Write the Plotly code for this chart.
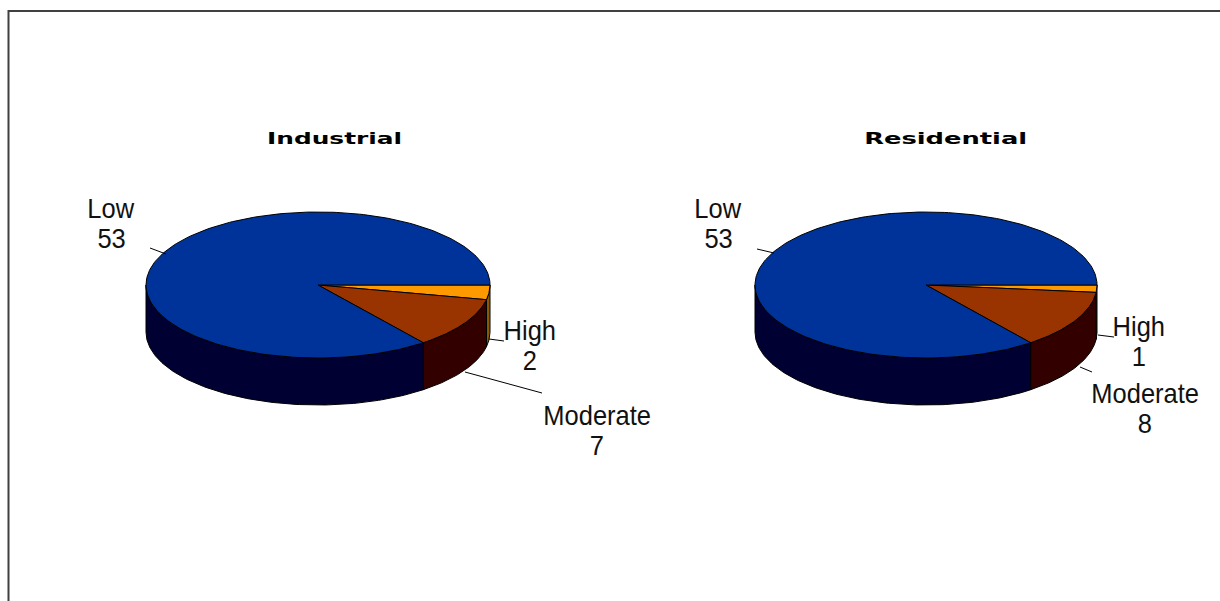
import numpy as np
import plotly.graph_objects as go

# Chart data
categories = ["High", "Moderate", "Low"]
industrial_values = [2, 7, 53]
residential_values = [1, 8, 53]
chart_titles = ["Industrial", "Residential"]

# Slice colours: top face and side wall
top_colors = {"High": "#FF9900", "Moderate": "#993300", "Low": "#003399"}
side_colors = {"High": "#8A5A00", "Moderate": "#330000", "Low": "#000033"}

W, H = 1220, 601
DEPTH = 47
LINE_GAP = 30

# Pixel geometry of each pie and where its texts and leader lines sit
panels = [
    dict(values=industrial_values, title=chart_titles[0], cx=318, cy=285, rx=172, ry=73,
         px=(0, 610), suffix="", title_x=334.5, title_y=138,
         labels={"Low": (111, 208), "High": (530, 330), "Moderate": (597, 415)},
         leaders=[((150, 248), (166, 254)), ((489, 339), (504, 341)), ((465, 372), (542, 393))]),
    dict(values=residential_values, title=chart_titles[1], cx=926, cy=285, rx=171, ry=73,
         px=(610, 1220), suffix="2", title_x=945.5, title_y=138,
         labels={"Low": (718, 208), "High": (1139, 326), "Moderate": (1145, 393)},
         leaders=[((757, 249), (774, 253)), ((1098, 335), (1114, 337)), ((1080, 367), (1092, 372))]),
]

LABEL_FONT = dict(family="Liberation Sans, sans-serif", size=28, color="#111111")
TITLE_FONT = dict(family="DejaVu Sans, sans-serif", size=16, color="#000000", weight="bold")


def arc(a0, a1, n=120):
    t = np.linspace(a0, a1, n)
    return np.cos(t), -np.sin(t)


def text_note(text, x, y, font):
    return dict(text=text, x=x / W, y=1 - y / H, xref="paper", yref="paper",
                showarrow=False, xanchor="center", yanchor="middle", font=font)


fig = go.Figure()
annotations = []
shapes = []

for p in panels:
    xa, ya = "x" + p["suffix"], "y" + p["suffix"]
    drop = DEPTH / p["ry"]
    total = sum(p["values"])
    edges = np.concatenate([[0], np.cumsum(p["values"])]) / total * 2 * np.pi

    # Side walls are only visible along the front half of the rim
    for cat, a0, a1 in zip(categories, edges[:-1], edges[1:]):
        x, y = arc(a0, min(a1, np.pi))
        fig.add_trace(go.Scatter(
            x=np.concatenate([x, x[::-1], x[:1]]),
            y=np.concatenate([y, y[::-1] - drop, y[:1]]),
            mode="lines", fill="toself", fillcolor=side_colors[cat],
            line=dict(color="#000000", width=1), xaxis=xa, yaxis=ya,
            hoverinfo="skip", showlegend=False))

    # Top faces
    for cat, a0, a1 in zip(categories, edges[:-1], edges[1:]):
        x, y = arc(a0, a1, 240)
        fig.add_trace(go.Scatter(
            x=np.concatenate([[0], x, [0]]),
            y=np.concatenate([[0], y, [0]]),
            mode="lines", fill="toself", fillcolor=top_colors[cat],
            line=dict(color="#000000", width=1), xaxis=xa, yaxis=ya,
            name=cat, showlegend=False))

    # Axes are scaled in pie radii so one unit spans the ellipse
    x0, x1 = p["px"]
    common = dict(visible=False, fixedrange=True)
    fig.update_layout({
        ("xaxis" + p["suffix"]): dict(domain=[x0 / W, x1 / W],
                                      range=[(x0 - p["cx"]) / p["rx"], (x1 - p["cx"]) / p["rx"]],
                                      anchor=ya, **common),
        ("yaxis" + p["suffix"]): dict(domain=[0, 1],
                                      range=[(p["cy"] - H) / p["ry"], p["cy"] / p["ry"]],
                                      anchor=xa, **common),
    })

    annotations.append(text_note(p["title"], p["title_x"], p["title_y"], TITLE_FONT))
    for cat, val in zip(categories, p["values"]):
        lx, ly = p["labels"][cat]
        annotations.append(text_note(cat, lx, ly, LABEL_FONT))
        annotations.append(text_note(str(val), lx, ly + LINE_GAP, LABEL_FONT))
    for (ax, ay), (bx, by) in p["leaders"]:
        shapes.append(dict(type="line", xref="paper", yref="paper",
                           x0=ax / W, y0=1 - ay / H, x1=bx / W, y1=1 - by / H,
                           line=dict(color="#000000", width=1)))

# Frame: top and left rules running off the page edge
shapes.append(dict(type="line", xref="paper", yref="paper", x0=8.5 / W, x1=1, y0=1 - 11 / H, y1=1 - 11 / H,
                   line=dict(color="#404040", width=2)))
shapes.append(dict(type="line", xref="paper", yref="paper", x0=8.5 / W, x1=8.5 / W, y0=0, y1=1 - 10 / H,
                   line=dict(color="#404040", width=2)))

fig.update_layout(width=W, height=H, margin=dict(l=0, r=0, t=0, b=0),
                  paper_bgcolor="#FFFFFF", plot_bgcolor="#FFFFFF",
                  showlegend=False, annotations=annotations, shapes=shapes)

# Titles are set extended and the slice labels condensed
stretch_text = """
var gd = document.getElementById('{plot_id}');
var titleWidths = {"Industrial": 135, "Residential": 163};
gd.querySelectorAll('.annotation-text').forEach(function (t) {
  var w = titleWidths[t.textContent];
  if (!w) { w = t.getComputedTextLength() * 0.91; }
  t.setAttribute('textLength', w);
  t.setAttribute('lengthAdjust', 'spacingAndGlyphs');
});
"""

fig.write_html("out.html", config={"displayModeBar": False}, post_script=stretch_text)
